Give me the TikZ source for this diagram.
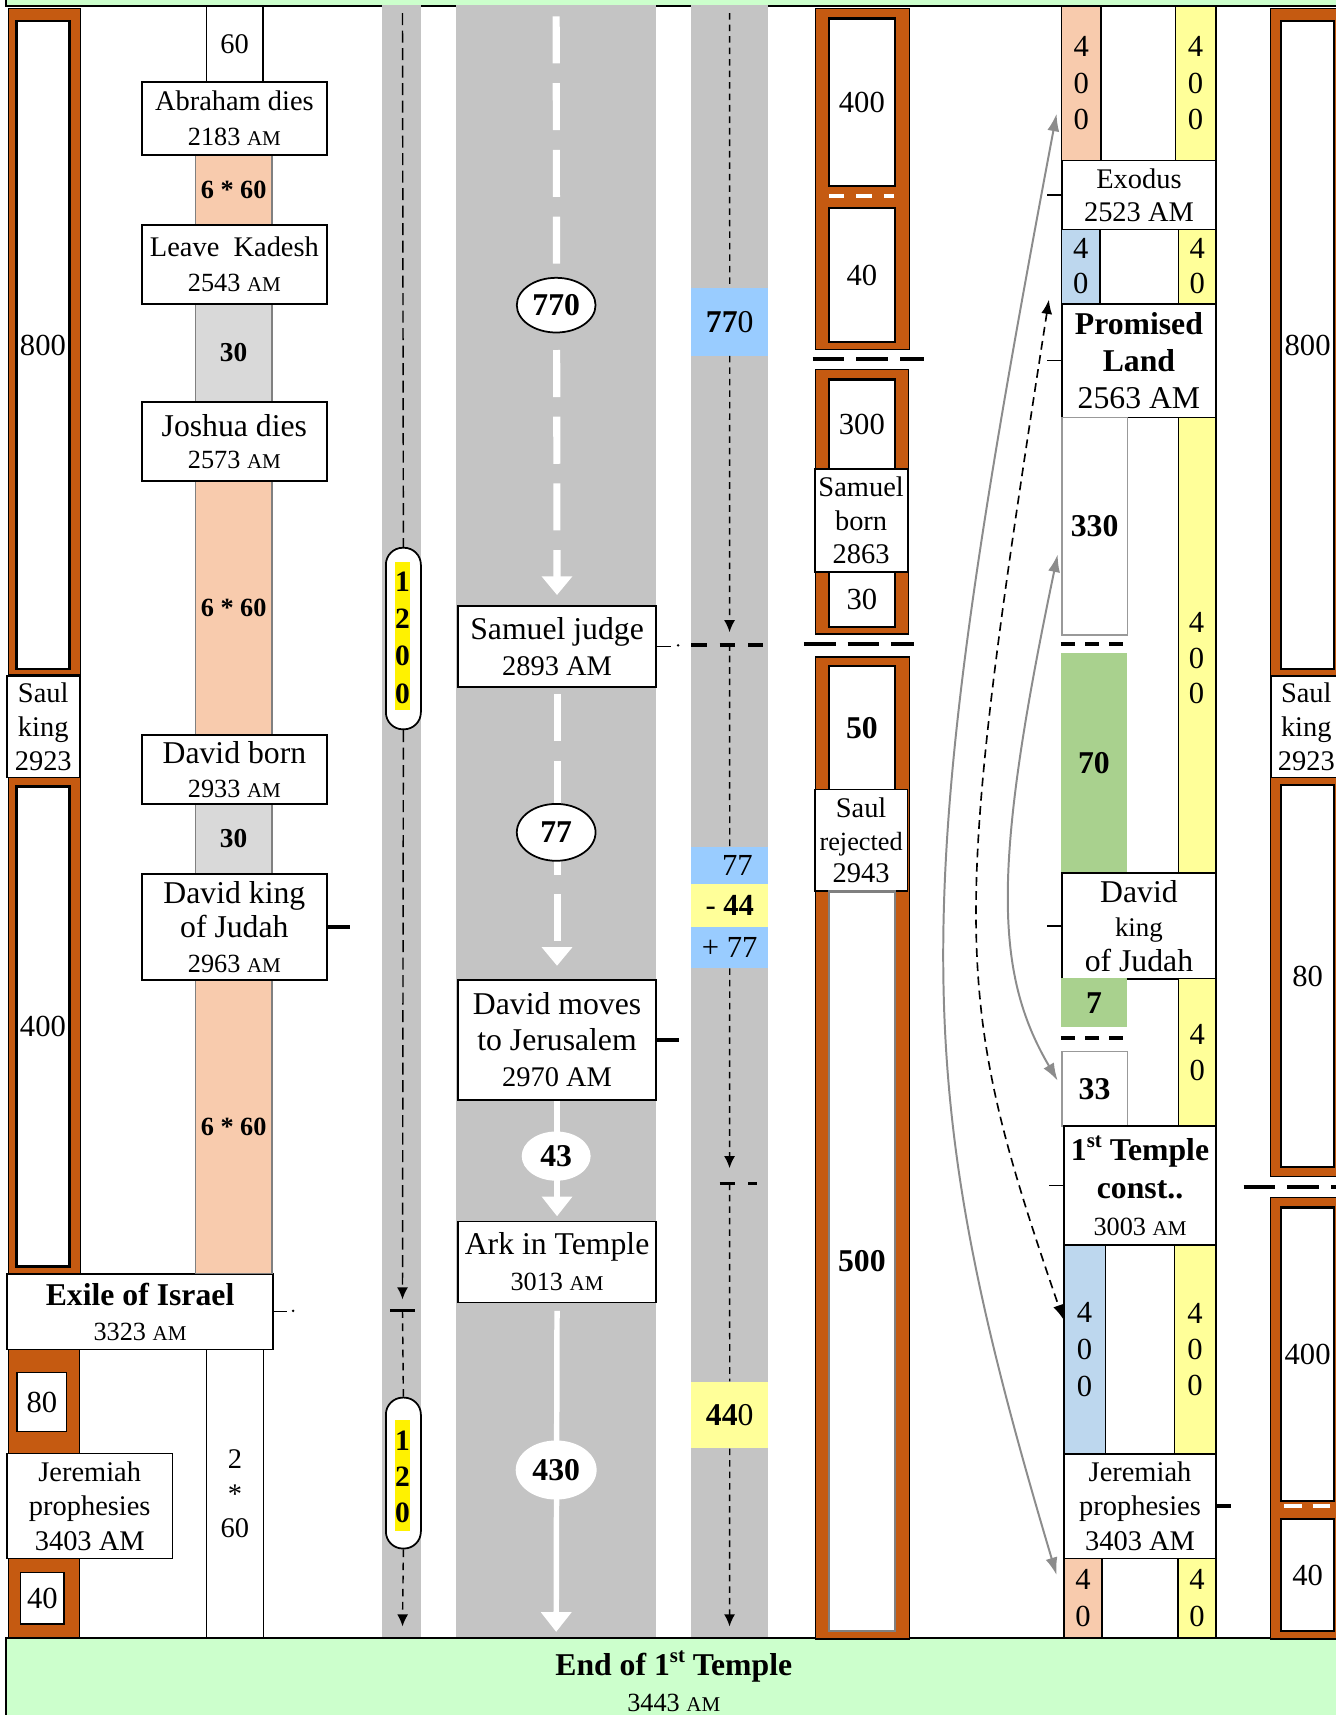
\documentclass[tikz,border=0pt]{standalone}
\usepackage{fontspec}
\setmainfont{Liberation Serif}
\usetikzlibrary{shapes.geometric,arrows.meta}
\definecolor{brn}{HTML}{C55A11}
\definecolor{peach}{HTML}{F8CBAD}
\definecolor{lgray}{HTML}{D9D9D9}
\definecolor{hatch}{HTML}{C4C4C4}
\definecolor{mint}{HTML}{CCFFCC}
\definecolor{sky}{HTML}{99CCFF}
\definecolor{lyel}{HTML}{FFFF99}
\definecolor{pblue}{HTML}{BDD7EE}
\definecolor{lgreen}{HTML}{A9D18E}
\definecolor{arrgray}{HTML}{8C8C8C}
\newcommand\am{\scalebox{0.8}{AM}}
\newcommand\fs[2]{\fontsize{#1}{#2}\selectfont}
\newcommand\stp{\raisebox{0.42em}{\fs{19}{19}st}}
\newcommand\bx[7]{\node[#2,anchor=north west,minimum width={(#5-#3)*1pt},minimum height={(#6-#4)*1pt}] (#1) at (#3,#4) {#7};}
\begin{document}
\begin{tikzpicture}[x=1pt,y=-1pt,
  ev/.style={draw=black,fill=white,line width=1.6pt,inner sep=0pt,align=center,font=\fs{26}{31}},
  ob/.style={draw=black,fill=brn,line width=1.4pt,inner sep=0pt},
  ib/.style={draw=black,fill=white,line width=2pt,inner sep=0pt,align=center,font=\fs{28}{32}},
  ibg/.style={draw=gray!80,fill=white,line width=1.5pt,inner sep=0pt,align=center,font=\bfseries\fs{29}{32}},
  strip/.style={draw=gray,line width=1.2pt,inner sep=0pt,align=center,font=\bfseries\fs{24}{30}},
  num7/.style={draw=black,line width=1.3pt,inner sep=0pt,align=center,font=\fs{28}{33.5}},
  cbox/.style={draw=none,inner sep=0pt,align=center,font=\fs{28}{32}},
  gbox/.style={draw=none,fill=lgreen,inner sep=0pt,align=center,font=\bfseries\fs{29}{32}},
  pill/.style={draw=black,fill=white,line width=1.6pt,rounded corners=15.5pt,inner sep=0pt},
  oval/.style={ellipse,draw=black,fill=white,line width=1.6pt,inner sep=0pt,font=\bfseries\fs{29}{32}},
  woval/.style={ellipse,draw=none,fill=white,inner sep=0pt,font=\bfseries\fs{29}{32}},
  wdash/.style={white,line width=6.5pt,dash pattern=on 43pt off 18pt,-{Triangle[length=17pt,width=27pt]}},
  wsolid/.style={white,line width=5pt,-{Triangle[length=18pt,width=27pt]}},
  dthree/.style={black,line width=1.3pt,dash pattern=on 11pt off 5pt},
  dthreeb/.style={black,line width=1.3pt,dash pattern=on 7pt off 5pt},
  dfive/.style={black,line width=1.3pt,dash pattern=on 6pt off 4.5pt},
  btip/.style={-{Latex[length=11pt,width=10pt]}},
  sep/.style={black,line width=4pt,dash pattern=on 29pt off 11pt},
  sepw/.style={white,line width=3.5pt,dash pattern=on 14pt off 11pt},
  sepg/.style={black,line width=4pt,dash pattern=on 13pt off 9pt},
  tick/.style={black,line width=3.5pt},
  ttick/.style={black,line width=1.4pt},
  cg/.style={draw=arrgray,line width=1.8pt,{Latex[length=16pt,width=11pt,fill=arrgray]}-{Latex[length=16pt,width=11pt,fill=arrgray]}},
  cb/.style={draw=black,line width=1.5pt,dash pattern=on 8pt off 5pt,{Latex[length=13pt,width=10pt]}-{Latex[length=13pt,width=10pt]}}
]
\useasboundingbox (0,0) rectangle (1221,1568);
% bands
\bx{topband}{draw=black,fill=mint,line width=1.2pt}{5}{-20}{1240}{5}{}
\bx{endband}{draw=black,fill=mint,line width=1.2pt}{5}{1497}{1240}{1600}{}
\node[font=\bfseries\fs{29}{33},align=center,inner sep=0pt] (endtxt) at (616,1537) {End of 1\stp{} Temple\\{\mdseries\fs{24}{33}3443 \am}};

% ===== column 1 =====
\bx{lao}{ob}{7}{7}{73}{616}{}
\bx{la}{ib}{14}{18}{62.5}{611}{800}
\bx{lsaul}{ev}{5.5}{617}{72}{710}{Saul\\king\\2923}
\bx{lbo}{ob}{7}{710}{73}{1164}{}
\bx{lb}{ib}{14}{718}{62.5}{1157}{400}
\bx{exile}{ev,font=\bfseries\fs{29}{32}}{5.5}{1164}{249}{1233}{Exile of Israel\\{\mdseries\fs{24}{32}3323 \am}}
\bx{lco}{ob}{7}{1233}{72}{1328}{}
\bx{lc}{ib,line width=1.6pt}{15}{1254}{60}{1308}{80}
\bx{ljer}{ev,font=\fs{26}{31.5}}{5.5}{1328}{157}{1424}{Jeremiah\\prophesies\\3403 AM}
\bx{ldo}{ob}{7}{1424}{72}{1497}{}
\bx{ld}{ib,line width=1.6pt}{18}{1437}{58}{1484}{40}
\draw[line width=1.2pt] (exile.east) -- ++(12,0);
\fill (268,1198.5) circle (1.3);

% ===== column 2 =====
\bx{s1}{strip,fill=peach}{178}{141}{248}{205}{6 * 60}
\bx{s2}{strip,fill=lgray,font=\bfseries\fs{25}{30}}{178}{277}{248}{367}{30}
\bx{s3}{strip,fill=peach}{178}{439}{248}{671}{6 * 60}
\bx{s4}{strip,fill=lgray,font=\bfseries\fs{25}{30}}{178}{734}{248}{798}{30}
\bx{s5}{strip,fill=peach}{178}{895}{248}{1164}{6 * 60}
\bx{ctop}{ev}{188}{5}{239.5}{74}{60}
\bx{abr}{ev,font=\fs{26}{32}}{129}{74}{298}{141}{Abraham dies\\{\fs{24}{32}2183 \am}}
\bx{kad}{ev,font=\fs{26}{32}}{129}{205}{298}{277}{Leave~~Kadesh\\{\fs{24}{32}2543 \am}}
\bx{jos}{ev,font=\fs{29}{30}}{129}{367}{298}{439}{Joshua dies\\{\fs{24}{30}2573 \am}}
\bx{dbo}{ev,font=\fs{29}{31}}{129}{671}{298}{734}{David born\\{\fs{24}{31}2933 \am}}
\bx{dkj}{ev,font=\fs{29}{31.5}}{129}{798}{298}{895}{David king\\of Judah\\{\fs{24}{31.5}2963 \am}}
\bx{cbot}{ev,font=\fs{26}{31.5}}{188}{1233}{240}{1497}{2\\*\\60}
\draw[tick] (dkj.east) -- ++(20,0);

% ===== column 3 (1200) =====
\fill[hatch] (349,5) rectangle (385,1497);
\coordinate (dA) at (368,12);
\coordinate (dB) at (368,1188);
\coordinate (dC) at (368,1198);
\coordinate (dD) at (368,1487);
\bx{p1200}{pill}{352}{500}{384}{666}{}
\fill[yellow] (361,514) rectangle (375,649);
\node[font=\bfseries\fs{27}{34},align=center,inner sep=0pt] (t1200) at (368,583) {1\\2\\0\\0};
\bx{p120}{pill}{352}{1277}{384}{1415}{}
\fill[yellow] (361,1298) rectangle (375,1400);
\node[font=\bfseries\fs{27}{33},align=center,inner sep=0pt] (t120) at (368,1350) {1\\2\\0};
\draw[dthree] (dA) -- (p1200.north);
\draw[dthree,btip] (p1200.south) -- (dB);
\draw[tick,line width=3pt] (357,1198) -- (379,1198);
\draw[dthreeb] (dC) -- (p120.north);
\draw[dthreeb,btip] (p120.south) -- (dD);

% ===== column 4 (main road) =====
\fill[hatch] (417,5) rectangle (600,1497);
\coordinate (r0) at (508.5,15);
\coordinate (rend) at (508.5,1492);
\bx{sj}{ev,font=\fs{29}{33}}{418}{553}{599}{627}{Samuel judge\\{\fs{26}{33}2893 AM}}
\bx{dm}{ev,font=\fs{29}{33}}{418}{895}{599}{1005}{David moves\\to Jerusalem\\{\fs{26}{33}2970 AM}}
\bx{ark}{ev,font=\fs{29}{33}}{418}{1116}{599}{1190}{Ark in Temple\\{\fs{24}{33}3013 \am}}
\draw[wdash,shorten >=9pt] (r0) -- (sj.north);
\node[oval,minimum width=72pt,minimum height=50pt] (e770) at (508.5,279) {770};
\draw[wdash,shorten <=6pt,shorten >=12pt] (sj.south) -- (dm.north);
\node[oval,minimum width=72pt,minimum height=52pt] (e77) at (508.5,761) {77};
\draw[wsolid,shorten >=4pt] (dm.south) -- (ark.north);
\node[woval,minimum width=63pt,minimum height=45pt] (e43) at (508.5,1057) {43};
\draw[wsolid,shorten <=7pt] (ark.south) -- (rend);
\node[woval,minimum width=74pt,minimum height=54pt] (e430) at (508.5,1344) {430};
\draw[tick] (dm.east) -- ++(20,0);

% ===== column 5 =====
\fill[hatch] (632,5) rectangle (702,1497);
\bx{b770}{cbox,fill=sky,font=\fs{29}{32}}{632}{263}{702}{325}{\textbf{77}0}
\bx{b77}{cbox,fill=sky}{632}{774}{702}{808}{\hspace*{14pt}77}
\bx{b44}{cbox,fill=lyel}{632}{808}{702}{847}{- \textbf{44}}
\bx{bp77}{cbox,fill=sky}{632}{847}{702}{885}{+ 77}
\bx{b440}{cbox,fill=lyel,font=\fs{29}{32}}{632}{1263}{702}{1324}{\textbf{44}0}
\coordinate (v0) at (667,12);
\coordinate (v1) at (667,578);
\coordinate (v2) at (667,589);
\coordinate (v3) at (667,1068);
\coordinate (v4) at (667,1082);
\coordinate (v5) at (667,1487);
\draw[dfive] (v0) -- (b770.north);
\draw[dfive,btip] (b770.south) -- (v1);
\draw[dfive] (v2) -- (b77.north);
\draw[dfive,btip] (bp77.south) -- (v3);
\draw[dfive] (v4) -- (b440.north);
\draw[dfive,btip] (b440.south) -- (v5);
\draw[line width=1.2pt] (sj.east) -- ++(13,0);
\fill (620,590) circle (1.3);
\draw[line width=3.5pt,dash pattern=on 14pt off 12pt] (632,590) -- (700,590);
\draw[line width=3.5pt] (658,1082) -- (672,1082);
\draw[line width=3.5pt] (684,1082) -- (692,1082);

% ===== column 6 =====
\bx{mao}{ob}{745}{7}{831}{319}{}
\bx{ma}{ib}{757}{16}{817}{169}{400}
\draw[sepw] (758,179) -- (817,179);
\bx{mb}{ib}{757}{189}{817}{312}{40}
\draw[sep] (743,328) -- (845,328);
\bx{mco}{ob}{745}{337}{830}{579}{}
\bx{mc}{ib}{757}{346}{817}{428}{300}
\bx{sbo}{ev,font=\fs{26}{30.5}}{744}{428}{829}{522}{Samuel\\born\\2863}
\bx{md}{ib}{757}{522}{817}{572}{30}
\draw[sep] (735,589) -- (836,589);
\bx{meo}{ob}{745}{600}{831}{1498}{}
\bx{me}{ib,font=\bfseries\fs{29}{32}}{757}{608}{817}{721}{50}
\bx{srj}{ev,font=\fs{26}{30}}{744}{721}{829}{814}{Saul\\{\fs{24}{30}rejected}\\2943}
\bx{mf}{ib,draw=gray,font=\bfseries\fs{29}{32}}{757}{814}{817}{1490}{500}

% ===== column 7 =====
\bx{pe400}{num7,fill=peach}{970}{5}{1006}{146}{4\\0\\0}
\bx{ye400}{num7,fill=lyel}{1074}{5}{1111}{146}{4\\0\\0}
\bx{ex}{ev,font=\fs{26}{30}}{970}{146}{1111}{209}{Exodus\\2523 AM}
\bx{bl40}{num7,fill=pblue,font=\fs{28}{32}}{970}{209}{1005}{277}{4\\0}
\bx{ye40a}{num7,fill=lyel,font=\fs{28}{32}}{1077}{209}{1111}{277}{4\\0}
\bx{pl}{ev,font=\bfseries\fs{29}{34}}{970}{277}{1111}{381}{Promised\\Land\\{\mdseries 2563 AM}}
\bx{b330}{ibg}{970}{381}{1030}{580}{330}
\bx{ye400b}{num7,fill=lyel}{1077}{381}{1111}{797.5}{}
\node[font=\fs{28}{32.5},align=center,inner sep=0pt] (t400b) at (1094,602) {4\\0\\0};
\draw[sepg] (970,589) -- (1030,589);
\bx{g70}{gbox}{970}{597}{1030}{797.5}{70}
\bx{rdk}{ev,font=\fs{29}{31.5}}{970}{797.5}{1111}{894}{David\\{\fs{24.6}{31.5}king}\\of Judah}
\bx{g7}{gbox}{970}{894}{1030}{939}{7}
\bx{ye40b}{num7,fill=lyel,font=\fs{28}{33}}{1077}{894}{1111}{1029.5}{4\\0}
\draw[sepg] (970,949) -- (1030,949);
\bx{b33}{ibg}{970}{960.5}{1030}{1029}{33}
\bx{ft}{ev,font=\bfseries\fs{29}{34}}{972}{1029}{1111}{1137.5}{1\stp{} Temple\\const..\\{\mdseries\fs{24}{34}3003 \am}}
\bx{bl400}{num7,fill=pblue,font=\fs{28}{34}}{972}{1137.5}{1010}{1328.6}{4\\0\\0}
\bx{ye400c}{num7,fill=lyel,font=\fs{28}{33}}{1073}{1137.5}{1111}{1328.6}{4\\0\\0}
\bx{rjer}{ev,font=\fs{26}{31.5}}{972}{1328.6}{1111}{1424}{Jeremiah\\prophesies\\3403 AM}
\bx{pe40}{num7,fill=peach,font=\fs{28}{34}}{972}{1424}{1007}{1497}{4\\0}
\bx{ye40c}{num7,fill=lyel,font=\fs{28}{34}}{1076.5}{1424}{1111}{1497}{4\\0}
\draw[ttick] (ex.west) -- ++(-13,0);
\draw[ttick] (pl.west) -- ++(-13,0);
\draw[ttick] (rdk.west) -- ++(-13,0);
\draw[ttick] (ft.west) -- ++(-13,0);
\draw[tick] (rjer.east) -- ++(13,0);

% ===== column 8 =====
\bx{rao}{ob}{1161}{7}{1235}{617}{}
\bx{ra}{ib}{1170}{18}{1219}{611}{800}
\bx{rsaul}{ev}{1161}{617}{1226}{710}{Saul\\king\\2923}
\bx{rbo}{ob}{1161}{710}{1235}{1075}{}
\bx{rb}{ib}{1170}{717}{1219}{1066}{80}
\draw[sep] (1137,1085) -- (1225,1085);
\bx{rco}{ob}{1161}{1094}{1235}{1498}{}
\bx{rc}{ib}{1170}{1103}{1219}{1371}{400}
\draw[white,line width=3.5pt,dash pattern=on 16pt off 10pt] (1174,1377) -- (1219,1377);
\bx{rd}{ib}{1170}{1388}{1219}{1490}{40}

% ===== curved connectors =====
\coordinate (a1s) at (966,104);
\coordinate (a1e) at (966,1440);
\coordinate (a2s) at (959,274);
\coordinate (a2e) at (972,1206);
\coordinate (a3s) at (967,507);
\coordinate (a3e) at (967,988);
\draw[cg] (a1s) .. controls (829,830) and (829,980) .. (a1e);
\draw[cb] (a2s) .. controls (869,853) and (869,907) .. (a2e);
\draw[cg] (a3s) .. controls (908,789) and (908,888) .. (a3e);
\end{tikzpicture}
\end{document}
